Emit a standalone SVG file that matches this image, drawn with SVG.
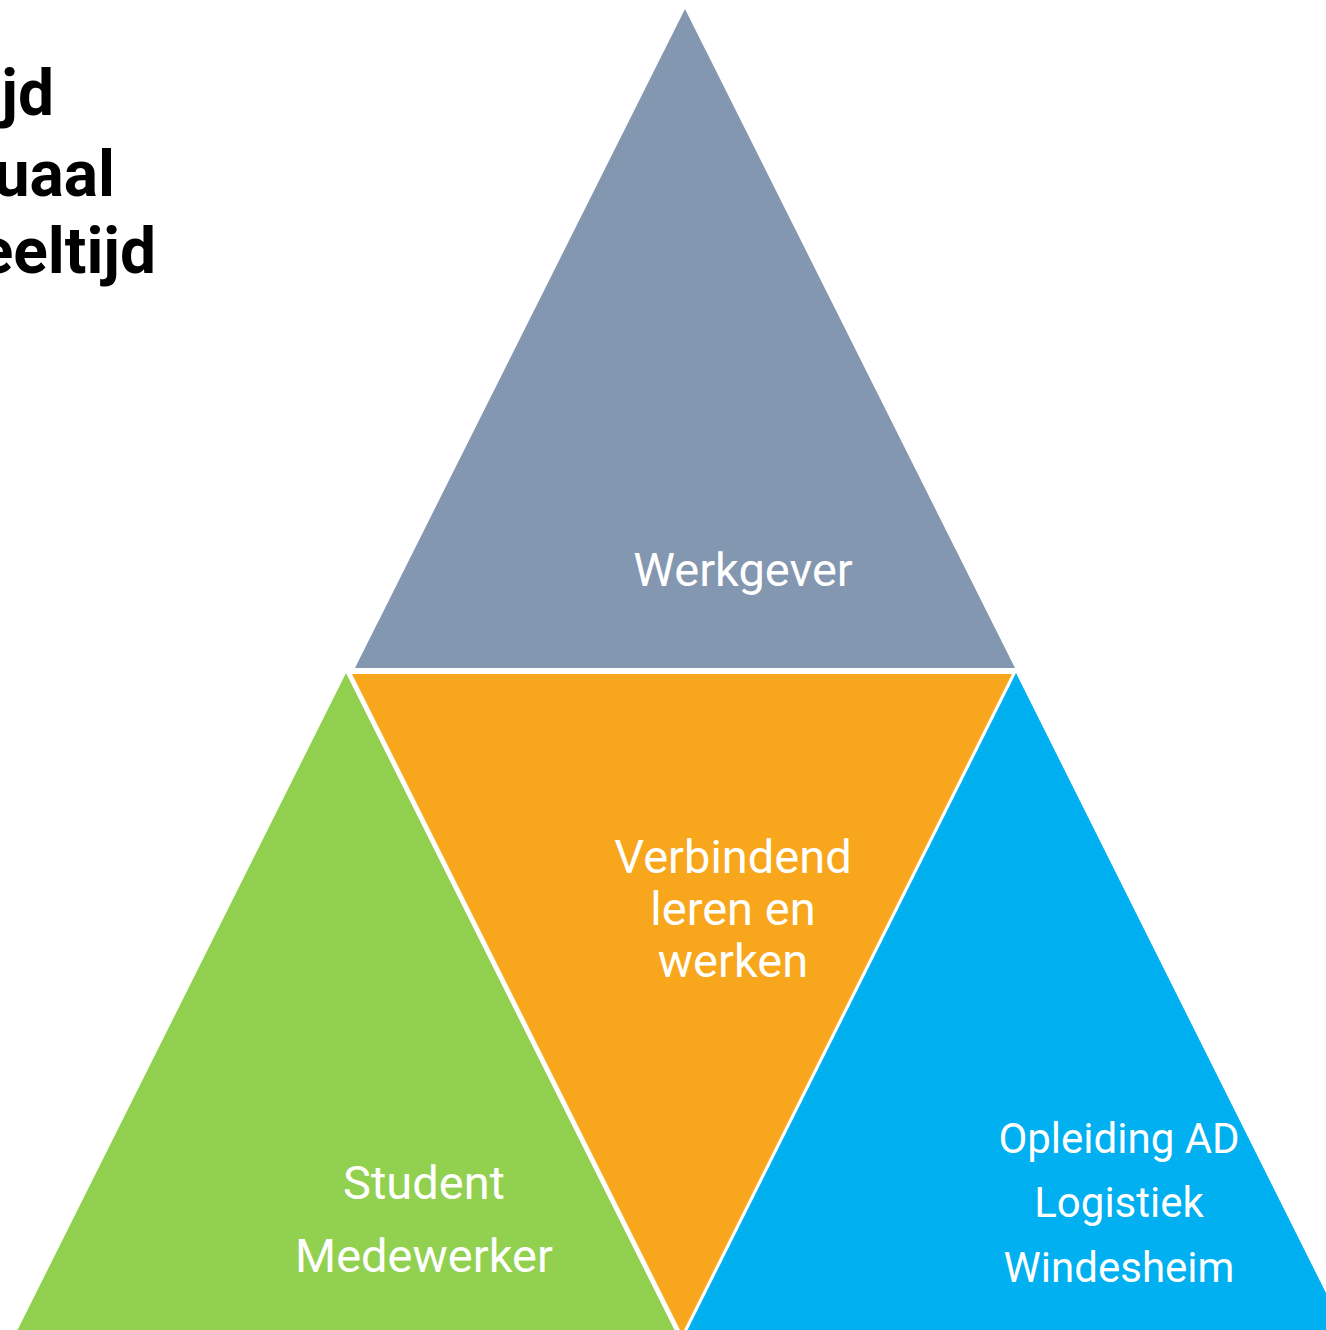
<svg xmlns="http://www.w3.org/2000/svg" width="1326" height="1330" viewBox="0 0 1326 1330">
<style>
.lbl{font-family:Roboto,"Liberation Sans",sans-serif;fill:#FFFFFF;text-anchor:middle}
.side{font-family:Roboto,"Liberation Sans",sans-serif;font-weight:700;fill:#000000;text-anchor:end;font-size:64px}
</style>
<rect x="0" y="0" width="1326" height="1330" fill="#FFFFFF"/>
<g id="side-text">
<text class="side" x="54" y="115">jd</text>
<text class="side" x="115" y="196">uaal</text>
<text class="side" x="156" y="273">eeltijd</text>
</g>
<g id="werkgever">
<polygon points="685,9 355,668 1015,668" fill="#8497B0"/>
<text class="lbl" x="743" y="586" font-size="47">Werkgever</text>
</g>
<g id="verbindend">
<polygon points="352,674 1012,674 682,1334" fill="#F8A61C"/>
<text class="lbl" font-size="47"><tspan x="733" y="873">Verbindend</tspan><tspan x="733" y="925">leren en</tspan><tspan x="733" y="977">werken</tspan></text>
</g>
<g id="student">
<polygon points="346,673 -4,1373 696,1373" fill="#92D050"/>
<text class="lbl" font-size="47"><tspan x="424" y="1199">Student</tspan><tspan x="424" y="1272">Medewerker</tspan></text>
</g>
<g id="opleiding">
<polygon points="1016,673 666,1373 1366,1373" fill="#00B0F0"/>
<text class="lbl" font-size="42"><tspan x="1119" y="1153">Opleiding AD</tspan><tspan x="1119" y="1217">Logistiek</tspan><tspan x="1119" y="1282">Windesheim</tspan></text>
</g>
<g id="connectors"></g>
</svg>
